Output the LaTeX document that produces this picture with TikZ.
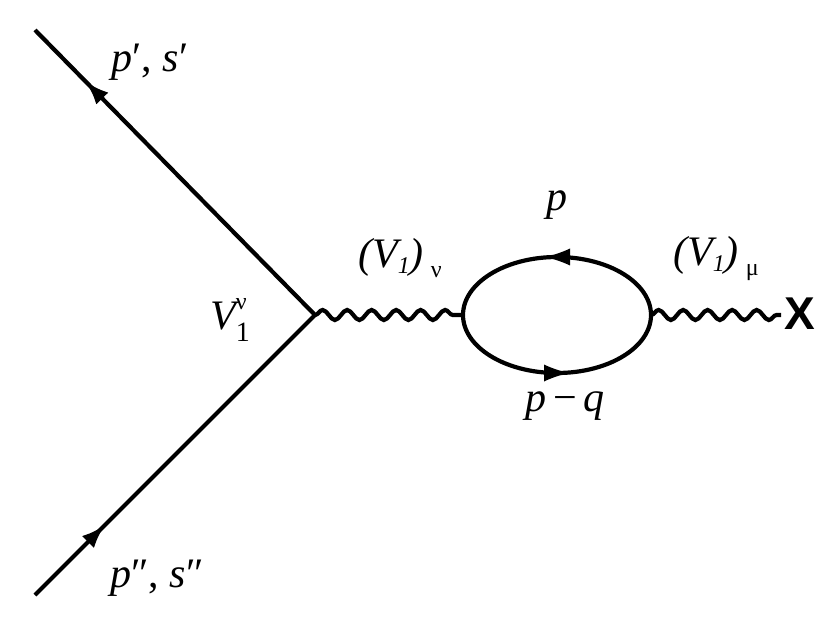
\documentclass[tikz,border=0pt]{standalone}
\usepackage{fontspec}
\setmainfont{Liberation Serif}
\newfontfamily\xsans{Liberation Sans}
\usetikzlibrary{decorations.pathmorphing,decorations.markings,arrows.meta}
\newcommand{\subl}[2]{\raisebox{#1}{\fontsize{24}{24}\selectfont #2}}
\begin{document}
\begin{tikzpicture}[x=1pt,y=-1pt,
  fermion/.style={line width=4.2pt,postaction={decorate},decoration={markings,mark=at position #1 with {\arrow{Latex[length=24pt,width=17pt]}}}},
  photon/.style={line width=4.2pt,decorate,decoration={snake,segment length=24.5,amplitude=5}},
  lbl/.style={font=\fontsize{42}{46}\selectfont\itshape,inner sep=0pt}]
\useasboundingbox (0,0) rectangle (831,623);
\coordinate (a) at (35,30);
\coordinate (b) at (35,595);
\coordinate (v) at (315,315);
\coordinate (l) at (463,315);
\coordinate (r) at (651,315);
\coordinate (xe) at (781,315);
\draw[fermion=0.82] (v) -- (a);
\draw[fermion=0.25] (b) -- (v);
\draw[photon] (v) -- (l);
\draw[photon] (r) -- (xe);
\draw[line width=4.2pt] (557,315) ellipse [x radius=94, y radius=58];
\draw[line width=0pt,-{Latex[length=24pt,width=17pt]}] (572,257) -- (546,257);
\draw[line width=0pt,-{Latex[length=24pt,width=17pt]}] (542,373) -- (568,373);
\node[font=\xsans\bfseries\fontsize{46}{46}\selectfont,inner sep=0pt] (X) at (800,314) {X};
\node[lbl] (l1) at (150,62) {p\upshape\char"2032, \itshape s\upshape\char"2032};
\node[lbl] (l2) at (157,578) {p\upshape\char"2033, \itshape s\upshape\char"2033};
\node[lbl] (l3) at (230,320) {V\rlap{\raisebox{20pt}{\upshape\fontsize{24}{24}\selectfont ν}}\raisebox{-12pt}{\upshape\fontsize{28}{28}\selectfont 1}};
\node[lbl] (l4) at (400,258) {(V\subl{-6pt}{1})\,\subl{-10pt}{\upshape ν}};
\node[lbl] (l5) at (716,258) {(V\subl{-6pt}{1})\,\subl{-10pt}{\upshape μ}};
\node[lbl] (l6) at (557,205) {p};
\node[lbl] (l7) at (565,406) {p\,\upshape−\,\itshape q};
\end{tikzpicture}
\end{document}
